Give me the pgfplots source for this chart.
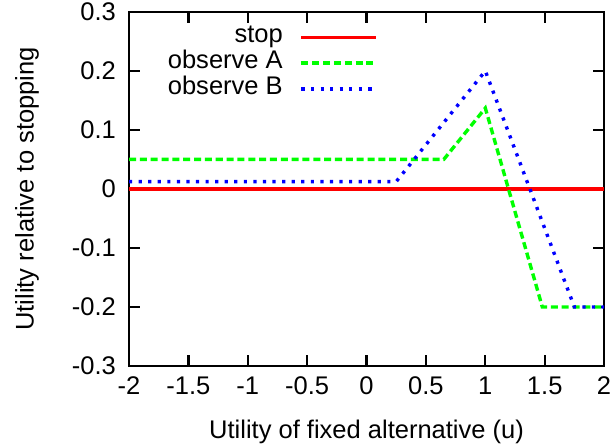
\documentclass[border=0pt]{standalone}
\usepackage{pgfplots}
\pgfplotsset{compat=1.18}
\usepackage{fontspec}
\setmainfont{Liberation Sans}
\definecolor{gpred}{rgb}{1,0,0}
\definecolor{gpgreen}{rgb}{0,1,0}
\definecolor{gpblue}{rgb}{0,0,1}
\begin{document}
\fontsize{12}{14}\selectfont
\begin{tikzpicture}[font=\fontsize{12}{14}\selectfont]
\begin{axis}[
  name=ax,
  scale only axis,
  width=223.5pt, height=166.6pt,
  xmin=-2, xmax=2, ymin=-0.3, ymax=0.3,
  xtick={-2,-1.5,...,2},
  ytick={-0.3,-0.2,...,0.3},
  axis line style={line width=1.1pt},
  major tick length=5pt,
  tick style={line width=1.1pt, black},
  tick align=inside,
  xtick pos=both, ytick pos=both,
  /pgf/number format/assume math mode=true,
  tick label style={font=\fontsize{12}{14}\selectfont},
  yticklabel style={/pgf/number format/fixed, /pgf/number format/precision=1, xshift=-2pt},
  xticklabel style={/pgf/number format/fixed, yshift=-1pt},
  xlabel={Utility of fixed alternative (u)},
  ylabel={Utility relative to stopping},
  every axis x label/.style={at={(axis description cs:0.5,0)}, yshift=-31pt, anchor=center, font=\fontsize{12}{14}\selectfont},
  every axis y label/.style={at={(axis description cs:0,0.5)}, xshift=-48pt, rotate=90, anchor=center, font=\fontsize{12}{14}\selectfont},
  legend style={draw=none, fill=none, inner sep=0pt, at={(axis description cs:0.524,1)}, yshift=-5.75pt, anchor=north east,
    cells={anchor=east}, row sep=0pt, column sep=8pt,
    nodes={inner sep=0pt, text height=8.5pt, text depth=3.6pt},
    font=\fontsize{12}{14}\selectfont},
  legend plot pos=right,
  legend image code/.code={\draw[#1] plot coordinates {(0pt,0pt) (35pt,0pt)};},
]
\addplot[gpred, line width=1.5pt] coordinates {(-2,0) (2,0)};
\addlegendentry{stop}
\addplot[gpgreen, line width=1.6pt, dash pattern=on 3.3pt off 1.8pt] coordinates {(-2,0.05) (0.65,0.05) (1,0.137) (1.48,-0.2) (2,-0.2)};
\addlegendentry{observe A}
\addplot[gpblue, line width=1.6pt, dash pattern=on 1.5pt off 3pt] coordinates {(-2,0.0125) (0.25,0.0125) (1,0.2) (1.75,-0.2) (2,-0.2)};
\addlegendentry{observe B}
\end{axis}
\pgfresetboundingbox
\path[use as bounding box] ([shift={(-60.7pt,-38pt)}]ax.south west) rectangle ([shift={(5.6pt,5.6pt)}]ax.north east);
\end{tikzpicture}
\end{document}
